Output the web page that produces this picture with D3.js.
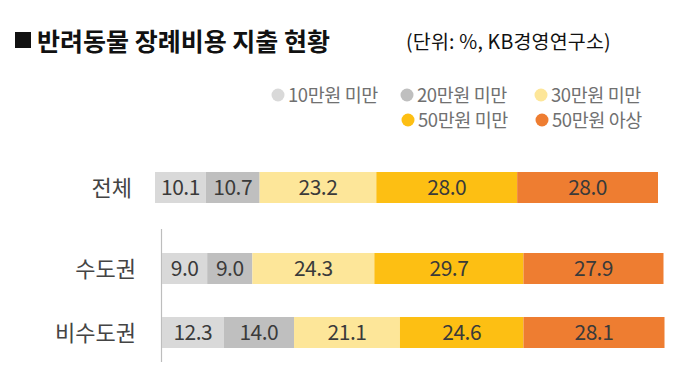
<!DOCTYPE html>
<html><head><meta charset="utf-8">
<script src="https://cdn.jsdelivr.net/npm/d3@7"></script>
<style>
html,body{margin:0;padding:0;background:#fff;}
svg{display:block;font-family:"Noto Sans CJK KR","Noto Sans",sans-serif;}
</style></head>
<body>
<svg id="c" width="680" height="373"></svg>
<script>
const title = "반려동물 장례비용 지출 현황";
const unitNote = "(단위: %, KB경영연구소)";
const categories = ["전체", "수도권", "비수도권"];
const seriesNames = ["10만원 미만", "20만원 미만", "30만원 미만", "50만원 미만", "50만원 아상"];
const under10 = [10.1, 9.0, 12.3];
const under20 = [10.7, 9.0, 14.0];
const under30 = [23.2, 24.3, 21.1];
const under50 = [28.0, 29.7, 24.6];
const over50 = [28.0, 27.9, 28.1];
const colors = ["#d9d9d9", "#bfbfbf", "#fde699", "#fdbf13", "#ee7d31"];

const series = [under10, under20, under30, under50, over50];
const svg = d3.select("#c");

// Title
svg.append("rect").attr("x", 15).attr("y", 32).attr("width", 16).attr("height", 16).attr("fill", "#111");
svg.append("text").attr("x", 37).attr("y", 51).attr("font-size", 25).attr("font-weight", 700)
  .attr("fill", "#111").text(title);
svg.append("text").attr("x", 406).attr("y", 49).attr("font-size", 19.5).attr("fill", "#111")
  .attr("letter-spacing", 0.2).text(unitNote);

// Legend
const legendPos = [[278, 95], [407, 95], [541, 95], [408, 120], [542, 120]];
const lg = svg.append("g");
seriesNames.forEach((n, i) => {
  const [lx, ly] = legendPos[i];
  lg.append("circle").attr("cx", lx).attr("cy", ly).attr("r", 6.5).attr("fill", colors[i]);
  lg.append("text").attr("x", lx + 10).attr("y", ly + 6.5).attr("font-size", 18.5)
    .attr("fill", "#707070").attr("letter-spacing", -0.4).text(n);
});

// Scales
const xAll = d3.scaleLinear().domain([0, 100]).range([155, 658]);
const xReg = d3.scaleLinear().domain([0, 100]).range([162, 664]);
const xFor = i => (i === 0 ? xAll : xReg);
const yCenter = d3.scaleOrdinal().domain(categories).range([187.5, 268.5, 332.5]);
const barH = 31;

// Axis line for regional group
svg.append("line").attr("x1", 161.5).attr("x2", 161.5).attr("y1", 229).attr("y2", 362)
  .attr("stroke", "#bdbdbd").attr("stroke-width", 1.2);

categories.forEach((cat, ci) => {
  const x = xFor(ci);
  const yc = yCenter(cat);
  let cum = 0;
  series.forEach((s, si) => {
    const v = s[ci];
    const x0 = x(cum), x1 = x(cum + v);
    svg.append("rect").attr("x", x0).attr("y", yc - barH / 2).attr("width", x1 - x0).attr("height", barH)
      .attr("fill", colors[si]);
    svg.append("text").attr("x", (x0 + x1) / 2).attr("y", yc + 7.5).attr("text-anchor", "middle")
      .attr("font-size", 21).attr("fill", "#3a3a3a").attr("letter-spacing", -0.5)
      .text(v.toFixed(1));
    cum += v;
  });
  svg.append("text").attr("x", ci === 0 ? 132 : 136).attr("y", yc + 8.5).attr("text-anchor", "end")
    .attr("font-size", 22).attr("fill", "#444").text(cat);
});
</script>
</body></html>
